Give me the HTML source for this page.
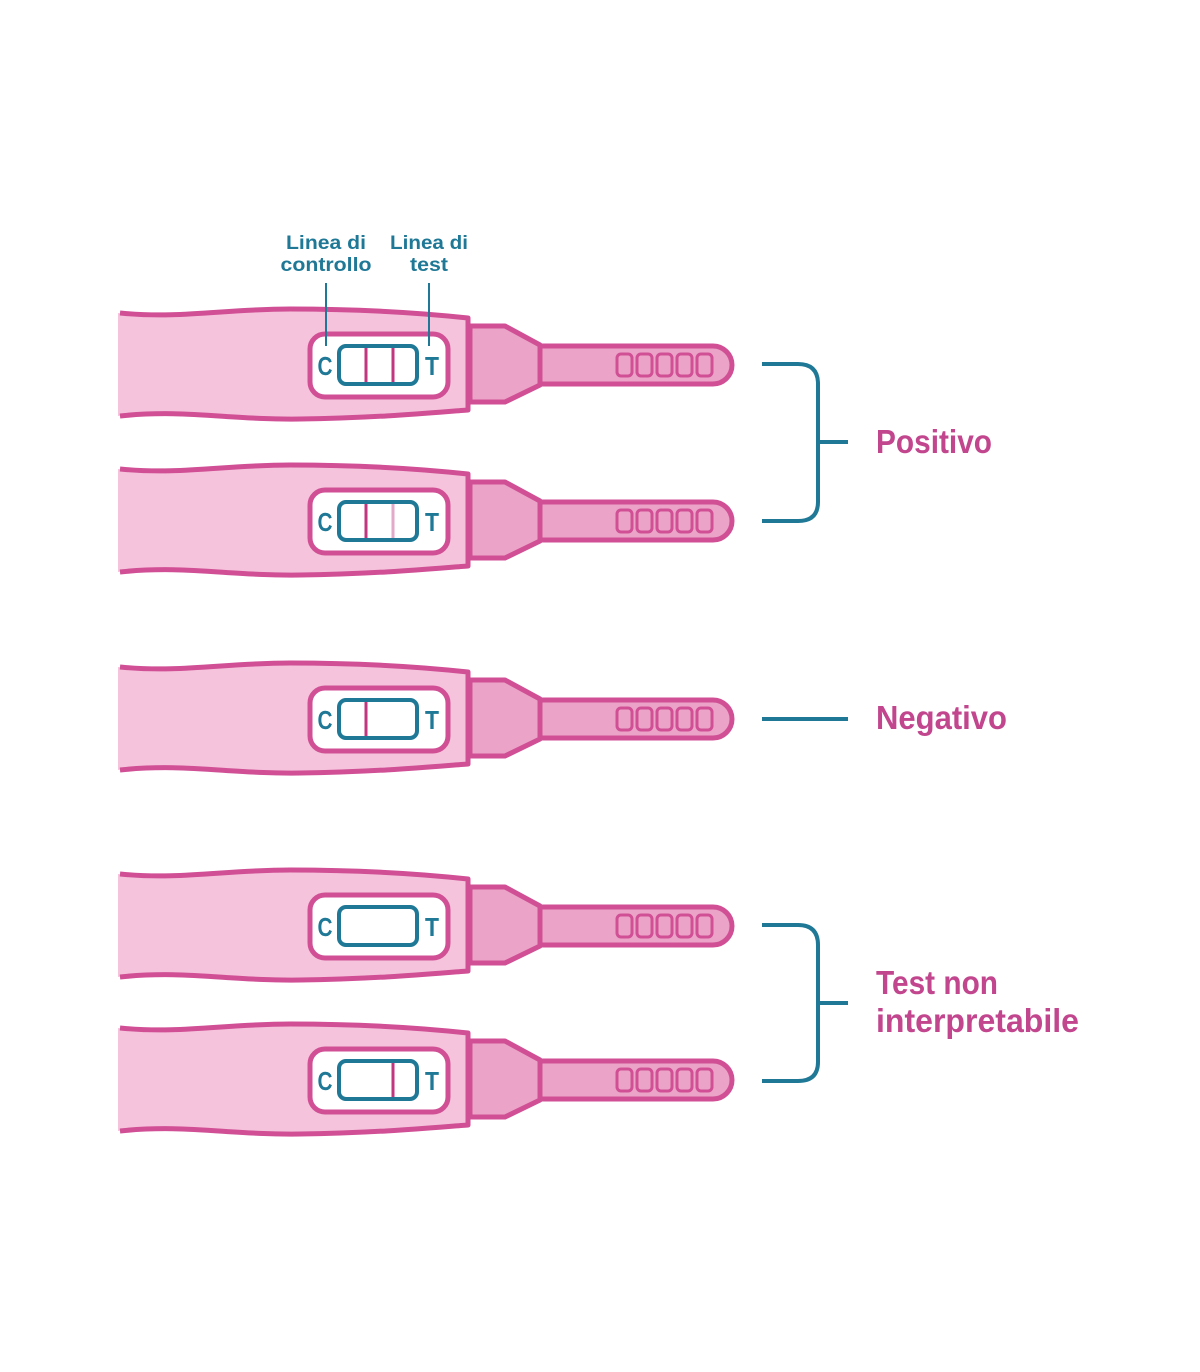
<!DOCTYPE html>
<html><head><meta charset="utf-8"><style>
html,body{margin:0;padding:0;background:#fff;}
svg{display:block;}
text{font-family:"Liberation Sans",sans-serif;font-weight:bold;}
</style></head><body>
<svg width="1200" height="1372" viewBox="0 0 1200 1372" xmlns="http://www.w3.org/2000/svg">
<defs>
<g id="dev">
  <path d="M118,-52 C180,-46 225,-56 290,-56 C380,-56 440,-50 468,-47 L468,45 C440,47 380,53 300,54 C230,55 185,44 118,51 Z" fill="#f5c4dc"/>
  <path d="M120,-52 C180,-46 225,-56 290,-56 C380,-56 440,-50 468,-47 L468,45 C440,47 380,53 300,54 C230,55 185,44 120,51" fill="none" stroke="#d04f95" stroke-width="5" stroke-linejoin="round"/>
  <path d="M470,-39 L505,-39 L540,-20 L540,20 L505,37 L470,37 Z" fill="#eba4c8" stroke="#d04f95" stroke-width="5" stroke-linejoin="round"/>
  <path d="M540,-19 L713,-19 A19,19 0 0 1 713,19 L540,19 Z" fill="#eba4c8" stroke="#d04f95" stroke-width="5"/>
  <g fill="none" stroke="#d04f95" stroke-width="3">
    <rect x="617" y="-11" width="15" height="22" rx="4"/>
    <rect x="637" y="-11" width="15" height="22" rx="4"/>
    <rect x="657" y="-11" width="15" height="22" rx="4"/>
    <rect x="677" y="-11" width="15" height="22" rx="4"/>
    <rect x="697" y="-11" width="15" height="22" rx="4"/>
  </g>
  <rect x="310" y="-31" width="138" height="63" rx="15" fill="#fff" stroke="#d04f95" stroke-width="5"/>
  <rect x="339" y="-19" width="78" height="38" rx="7" fill="#fff" stroke="#1e7896" stroke-width="4"/>
</g>
</defs>

<text x="326" y="249" font-size="19" fill="#1e7896" text-anchor="middle" textLength="80" lengthAdjust="spacingAndGlyphs">Linea di</text>
<text x="326" y="271" font-size="19" fill="#1e7896" text-anchor="middle" textLength="91" lengthAdjust="spacingAndGlyphs">controllo</text>
<text x="429" y="249" font-size="19" fill="#1e7896" text-anchor="middle" textLength="78" lengthAdjust="spacingAndGlyphs">Linea di</text>
<text x="429" y="271" font-size="19" fill="#1e7896" text-anchor="middle" textLength="38" lengthAdjust="spacingAndGlyphs">test</text>

<g transform="translate(0,365)">
  <use href="#dev"/>
  <line x1="366" y1="-17" x2="366" y2="17" stroke="#c2357f" stroke-width="3"/>
  <line x1="393" y1="-17" x2="393" y2="17" stroke="#c2357f" stroke-width="3"/>
  <text x="325" y="10" font-size="26" fill="#1e7896" text-anchor="middle" textLength="15" lengthAdjust="spacingAndGlyphs">C</text>
  <text x="432" y="10" font-size="26" fill="#1e7896" text-anchor="middle" textLength="14" lengthAdjust="spacingAndGlyphs">T</text>
</g>
<line x1="326" y1="283" x2="326" y2="346" stroke="#1e7896" stroke-width="2"/>
<line x1="429" y1="283" x2="429" y2="346" stroke="#1e7896" stroke-width="2"/>

<g transform="translate(0,521)">
  <use href="#dev"/>
  <line x1="366" y1="-17" x2="366" y2="17" stroke="#c2357f" stroke-width="3"/>
  <line x1="393" y1="-17" x2="393" y2="17" stroke="#e2a9c9" stroke-width="3"/>
  <text x="325" y="10" font-size="26" fill="#1e7896" text-anchor="middle" textLength="15" lengthAdjust="spacingAndGlyphs">C</text>
  <text x="432" y="10" font-size="26" fill="#1e7896" text-anchor="middle" textLength="14" lengthAdjust="spacingAndGlyphs">T</text>
</g>

<g transform="translate(0,719)">
  <use href="#dev"/>
  <line x1="366" y1="-17" x2="366" y2="17" stroke="#c2357f" stroke-width="3"/>
  <text x="325" y="10" font-size="26" fill="#1e7896" text-anchor="middle" textLength="15" lengthAdjust="spacingAndGlyphs">C</text>
  <text x="432" y="10" font-size="26" fill="#1e7896" text-anchor="middle" textLength="14" lengthAdjust="spacingAndGlyphs">T</text>
</g>

<g transform="translate(0,926)">
  <use href="#dev"/>
  <text x="325" y="10" font-size="26" fill="#1e7896" text-anchor="middle" textLength="15" lengthAdjust="spacingAndGlyphs">C</text>
  <text x="432" y="10" font-size="26" fill="#1e7896" text-anchor="middle" textLength="14" lengthAdjust="spacingAndGlyphs">T</text>
</g>

<g transform="translate(0,1080)">
  <use href="#dev"/>
  <line x1="393" y1="-17" x2="393" y2="17" stroke="#c2357f" stroke-width="3"/>
  <text x="325" y="10" font-size="26" fill="#1e7896" text-anchor="middle" textLength="15" lengthAdjust="spacingAndGlyphs">C</text>
  <text x="432" y="10" font-size="26" fill="#1e7896" text-anchor="middle" textLength="14" lengthAdjust="spacingAndGlyphs">T</text>
</g>

<g fill="none" stroke="#1e7896" stroke-width="4">
  <path d="M762,364 L798,364 Q818,364 818,384 L818,502 Q818,521 798,521 L762,521"/>
  <line x1="818" y1="442" x2="848" y2="442"/>
  <line x1="762" y1="719" x2="848" y2="719"/>
  <path d="M762,925 L798,925 Q818,925 818,945 L818,1062 Q818,1081 798,1081 L762,1081"/>
  <line x1="818" y1="1003" x2="848" y2="1003"/>
</g>

<text x="876" y="453" font-size="33" fill="#c2468e" textLength="116" lengthAdjust="spacingAndGlyphs">Positivo</text>
<text x="876" y="729" font-size="33" fill="#c2468e" textLength="131" lengthAdjust="spacingAndGlyphs">Negativo</text>
<text x="876" y="994" font-size="33" fill="#c2468e" textLength="122" lengthAdjust="spacingAndGlyphs">Test non</text>
<text x="876" y="1032" font-size="33" fill="#c2468e" textLength="203" lengthAdjust="spacingAndGlyphs">interpretabile</text>
</svg>
</body></html>
